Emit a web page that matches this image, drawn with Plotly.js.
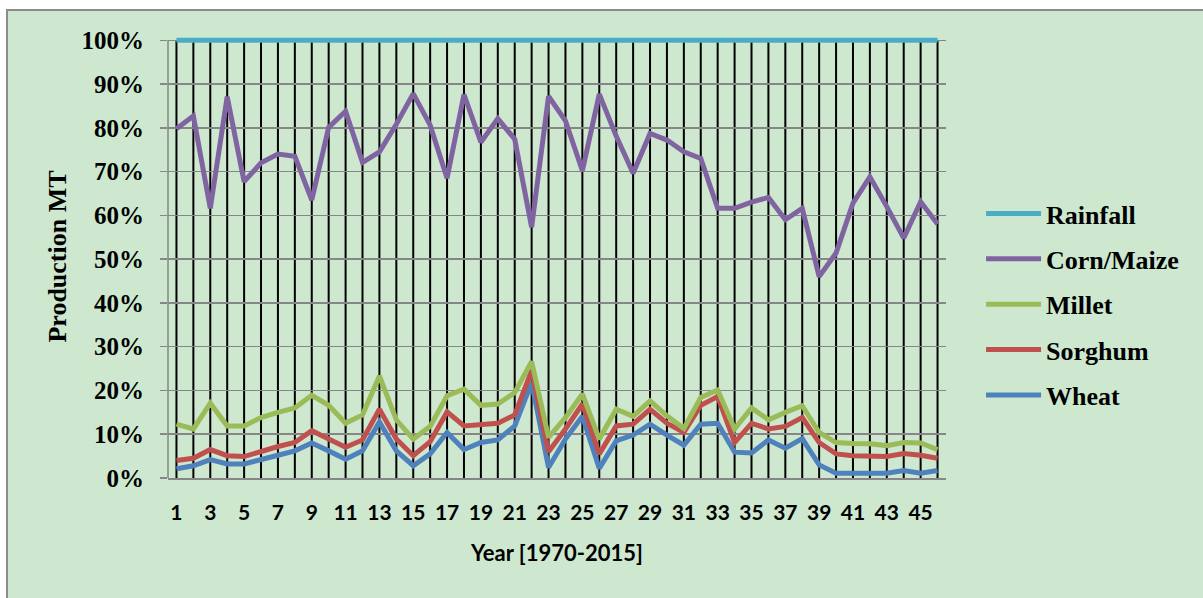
<!DOCTYPE html>
<html>
<head>
<meta charset="utf-8">
<script src="https://cdn.plot.ly/plotly-3.0.1.min.js"></script>
<style>
html,body{margin:0;padding:0;background:#ffffff;width:1203px;height:598px;overflow:hidden;}
#bg{position:absolute;left:6px;top:9px;width:1210px;height:600px;background:#CDE8CF;border-left:2px solid #8c8c8c;border-top:2px solid #8c8c8c;}
#chart{position:absolute;left:0;top:0;width:1203px;height:598px;}
</style>
</head>
<body>
<div id="bg"></div>
<div id="chart"></div>
<script>
// Year index 1..46 (1970-2015)
const years = [1,2,3,4,5,6,7,8,9,10,11,12,13,14,15,16,17,18,19,20,21,22,23,24,25,26,27,28,29,30,31,32,33,34,35,36,37,38,39,40,41,42,43,44,45,46];
// Cumulative (100% stacked) share, in percent
const rainfall = [100,100,100,100,100,100,100,100,100,100,100,100,100,100,100,100,100,100,100,100,100,100,100,100,100,100,100,100,100,100,100,100,100,100,100,100,100,100,100,100,100,100,100,100,100,100];
const cornMaize = [79.8,82.7,61.6,87.1,67.7,72.0,74.0,73.5,63.5,80.1,
                   83.8,72.1,74.5,80.8,87.8,80.6,68.5,87.6,76.7,82.1,
                   77.4,57.3,87.2,81.6,70.2,87.7,78.1,69.6,78.7,77.2,
                   74.5,73.0,61.6,61.6,63.0,64.1,59.0,61.6,46.0,51.4,
                   62.8,68.8,62.0,54.8,63.1,58.0];
const millet = [12.3,11.2,17.1,11.9,11.9,13.8,15.0,16.0,18.9,16.6,
                12.5,14.4,23.3,13.3,8.9,11.8,18.8,20.3,16.6,16.9,
                19.5,26.6,9.3,13.8,19.2,8.9,15.7,14.1,17.6,14.2,
                11.3,18.4,20.1,11.2,16.0,13.3,15.0,16.5,10.4,8.1,
                7.9,7.8,7.4,8.1,8.0,6.5];
const sorghum = [4.0,4.5,6.5,5.1,4.9,6.2,7.2,8.1,10.8,8.9,
                 7.0,8.7,15.7,8.9,5.1,8.3,15.1,11.9,12.2,12.5,
                 14.4,24.5,6.0,11.2,16.9,5.5,11.9,12.3,15.7,12.5,
                 10.4,16.6,18.6,8.1,12.5,11.2,11.8,13.8,8.1,5.5,
                 5.1,5.1,4.9,5.6,5.2,4.5];
const wheat = [2.1,2.8,4.2,3.2,3.2,4.3,5.2,6.2,8.0,6.2,
               4.3,6.2,12.8,6.2,2.8,5.5,10.4,6.5,8.1,8.7,
               11.9,21.8,2.4,8.9,14.1,2.2,8.5,9.8,12.3,9.8,
               7.5,12.3,12.5,5.9,5.7,8.7,6.8,9.0,3.0,1.1,
               1.1,1.1,1.1,1.7,1.1,1.7];
const yTicks = [0,10,20,30,40,50,60,70,80,90,100];
const yTickText = ['0%','10%','20%','30%','40%','50%','60%','70%','80%','90%','100%'];
const xTickText = years.map(v => (v % 2 === 1 ? String(v) : ''));

const seriesList = [
  {name:'Wheat', y:wheat, color:'#4F81BD', rank:5},
  {name:'Sorghum', y:sorghum, color:'#C0504D', rank:4},
  {name:'Millet', y:millet, color:'#9BBB59', rank:3},
  {name:'Corn/Maize', y:cornMaize, color:'#8064A2', rank:2},
  {name:'Rainfall', y:rainfall, color:'#4BACC6', rank:1}
];

const traces = seriesList.map(s => ({
  type:'scatter', mode:'lines', x:years, y:s.y, name:s.name,
  legendgroup:s.name, legendrank:s.rank,
  line:{color:s.color, width:5, shape:'linear'},
  hoverinfo:'x+y+name'
}));

const serif = 'Liberation Serif, Times New Roman, serif';
const sans = 'Lato, Open Sans, sans-serif';

// vertical black category lines
const vlines = years.map(v => ({
  type:'line', xref:'x', yref:'y', x0:v, x1:v, y0:0, y1:100,
  line:{color:'#000000', width:2}, layer:'below'
}));
vlines.push({type:'line', xref:'paper', yref:'y', x0:0, x1:0, y0:0, y1:100,
  line:{color:'#868686', width:1.5}, layer:'below'});

const layout = {
  width:1203, height:598,
  paper_bgcolor:'rgba(0,0,0,0)', plot_bgcolor:'rgba(0,0,0,0)',
  margin:{l:167.5, r:257.2, t:34.7, b:119.5},
  showlegend:true,
  xaxis:{
    range:[0.5,46.5], tickmode:'array', tickvals:years, ticktext:xTickText,
    showgrid:false, zeroline:false, showline:true, linecolor:'#868686', linewidth:1.5,
    ticks:'', ticklabelstandoff:15,
    tickfont:{family:sans, size:21, color:'#000000', weight:'bold'},
    title:{text:'<b>Year [1970-2015]</b>', font:{family:sans, size:22, color:'#000000'}, standoff:23},
    fixedrange:true
  },
  yaxis:{
    range:[0,101.2], tickmode:'array', tickvals:yTicks, ticktext:yTickText,
    showgrid:true, gridcolor:'#868686', gridwidth:1.5, zeroline:false, showline:false,
    ticks:'outside', ticklen:7, tickcolor:'#868686', tickwidth:1.5, ticklabelstandoff:11,
    tickfont:{family:serif, size:25, color:'#000000', weight:'bold'},
    title:{text:'<b>Production MT</b>', font:{family:serif, size:26, color:'#000000'}, standoff:7},
    fixedrange:true
  },
  legend:{
    xref:'container', yref:'container', x:0.8155, y:1-190/598, xanchor:'left', yanchor:'top',
    traceorder:'grouped', tracegroupgap:8.6, itemwidth:55,
    bgcolor:'rgba(0,0,0,0)',
    font:{family:serif, size:26, color:'#000000', weight:'bold'}
  },
  shapes:vlines
};

Plotly.newPlot('chart', traces, layout, {displayModeBar:false, staticPlot:true});
</script>
</body>
</html>
